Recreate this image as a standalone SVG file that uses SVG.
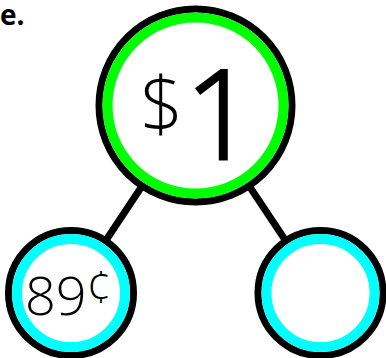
<svg xmlns="http://www.w3.org/2000/svg" width="386" height="358" viewBox="0 0 386 358">
<style>
.edge{stroke:#000;stroke-width:7;fill:none}
.outer{fill:#fff;stroke:#000;stroke-width:7}
.ring-g{fill:none;stroke:#00ff00;stroke-width:10}
.ring-c{fill:none;stroke:#00ffff;stroke-width:10}
.t{font-family:"Open Sans","Liberation Sans",sans-serif;font-weight:300;fill:#000}
</style>
<rect width="386" height="358" fill="#fff"/>
<text x="0" y="25" font-family="'Open Sans','Liberation Sans',sans-serif" font-weight="bold" font-size="28">e.</text>
<g id="connectors">
<line class="edge" x1="195.5" y1="105.5" x2="71" y2="293"/>
<line class="edge" x1="195.5" y1="105.5" x2="320.5" y2="293"/>
</g>
<g id="node-top">
<circle class="outer" cx="195.5" cy="105.5" r="96.5"/>
<circle class="ring-g" cx="195.5" cy="105.5" r="88"/>
<text class="t" x="140" y="131" font-size="76">$</text>
<text class="t" x="185" y="159" font-size="124" stroke="#000" stroke-width="3">1</text>
</g>
<g id="node-left">
<circle class="outer" cx="71" cy="293" r="62.5"/>
<circle class="ring-c" cx="71" cy="293" r="54"/>
<text class="t" x="25" y="315" font-size="54">89<tspan font-size="44" dy="-12">¢</tspan></text>
</g>
<g id="node-right">
<circle class="outer" cx="320.5" cy="293" r="62.5"/>
<circle class="ring-c" cx="320.5" cy="293" r="54"/>
</g>
</svg>
